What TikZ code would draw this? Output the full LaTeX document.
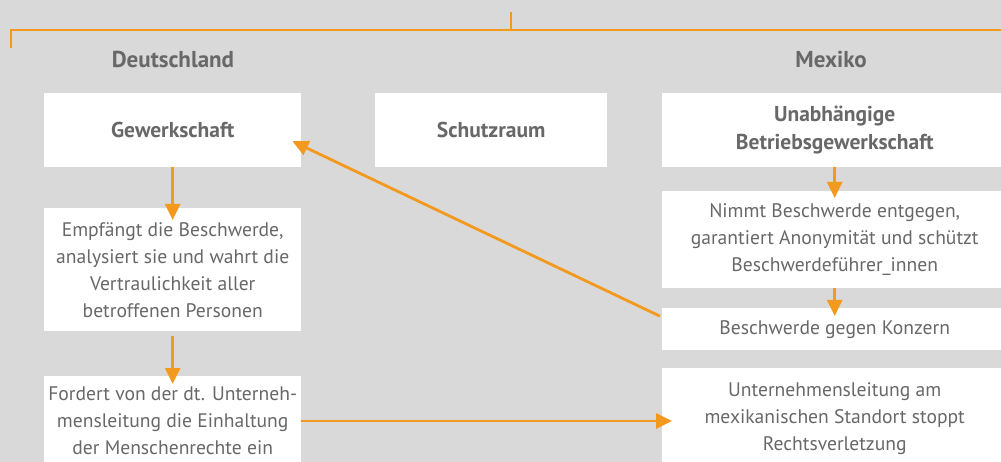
\documentclass[tikz,border=0pt]{standalone}
\usepackage{fontspec}
\setmainfont{PT Sans}
\usepackage{xcolor}
\usepackage{tikz}
\usetikzlibrary{arrows.meta, positioning}

\definecolor{bggray}{HTML}{D9D9D9}
\definecolor{txtgray}{HTML}{686868}
\definecolor{orangeline}{HTML}{F39A1E}

\begin{document}
\begin{tikzpicture}[x=1pt, y=-1pt,
		box/.style={fill=white, text=txtgray, align=center, inner sep=0pt, anchor=north west,
			font=\fontsize{19.6}{27}\selectfont},
		headbox/.style={box, font=\bfseries\fontsize{21.5}{28}\selectfont},
		head/.style={text=txtgray, font=\bfseries\fontsize{23}{26}\selectfont},
		arr/.style={draw=orangeline, line width=2.8pt, -{Triangle[width=15pt,length=16pt]}}]
		% Background
		\fill[bggray] (0,0) rectangle (1001,462);
		\useasboundingbox (0,0) rectangle (1001,462);
		
		% Bracket on top
		\draw[orangeline, line width=2.8pt] (11,48) -- (11,30) -- (1001,30);
		\draw[orangeline, line width=2.8pt] (511,30) -- (511,12);
		
		% Column heads
		\node[head] (de) at (173,59) {Deutschland};
		\node[head] (mx) at (831,59) {Mexiko};
		
		% Deutschland
		\node[headbox, minimum width=257pt, minimum height=74pt] (gew) at (44,93) {Gewerkschaft};
		\node[box, minimum width=257pt, minimum height=123pt] (empf) at (44,208)
		{Empfängt die Beschwerde,\\analysiert sie und wahrt die\\Vertraulichkeit aller\\betroffenen Personen};
		\node[box, minimum width=257pt, minimum height=90pt] (ford) at (44,376)
		{Fordert von der dt. Unterneh-\\mensleitung die Einhaltung\\der Menschenrechte ein};
		
		% Schutzraum
		\node[headbox, minimum width=232pt, minimum height=74pt] (schutz) at (375,93) {Schutzraum};
		
		% Mexiko
		\node[headbox, minimum width=345pt, minimum height=74pt] (ubg) at (662,93)
		{Unabhängige\\Betriebsgewerkschaft};
		\node[box, minimum width=345pt, minimum height=97pt] (nimmt) at (662,191)
		{Nimmt Beschwerde entgegen,\\garantiert Anonymität und schützt\\Beschwerdeführer\_innen};
		\node[box, minimum width=345pt, minimum height=42pt] (bgk) at (662,308)
		{Beschwerde gegen Konzern};
		\node[box, minimum width=345pt, minimum height=100pt] (ul) at (662,368)
		{Unternehmensleitung am\\mexikanischen Standort stoppt\\Rechtsverletzung};
		
		% Arrows
		\draw[arr, shorten <=0pt, shorten >=-12pt] (gew) -- (empf);
		\draw[arr, shorten <=5pt, shorten >=-8pt] (empf) -- (ford);
		\draw[arr, shorten >=-7pt] (ubg) -- (nimmt);
		\draw[arr, shorten >=-8pt] (nimmt) -- (bgk);
		\draw[arr] ([xshift=-2pt, yshift=13pt]bgk.west) -- ([xshift=-9pt, yshift=-11pt]gew.east);
		\draw[arr, shorten >=-10pt] (ford.east |- 0,421) -- (ul.west |- 0,421);
	\end{tikzpicture}
\end{document}
